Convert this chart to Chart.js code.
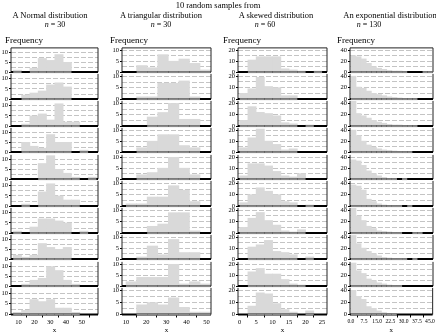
<!DOCTYPE html>
<html>
<head>
<meta charset="utf-8">
<script src="https://cdn.jsdelivr.net/npm/chart.js@4/dist/chart.umd.min.js"></script>
<style>
  html, body { margin: 0; padding: 0; background: #fff; }
  body { width: 436px; height: 333px; overflow: hidden; position: relative;
         font-family: "Liberation Serif", "DejaVu Serif", serif; color: #000; }
  canvas { position: absolute; }
  .lbl { position: absolute; white-space: nowrap; transform: translate(-50%, -50%);
         line-height: 1; font-size: 8.5px; }
  .left { transform: translate(0, -50%); }
</style>
</head>
<body>
<script>
// ---- data ----------------------------------------------------------------
const mainTitle = '10 random samples from';
const distributionTitles = ['A Normal distribution', 'A triangular distribution',
                            'A skewed distribution', 'An exponential distribution'];
const sampleSizes = [30, 30, 60, 130];
const yAxisTitle = 'Frequency';
const xAxisTitle = 'x';

// histogram bins: first edge and width per distribution
const binStarts = [6.6, 10, 0, 0];
const binWidths = [5.26, 5.25, 2.5, 2.9];

// tick labels
const xTickValues = [[10, 20, 30, 40, 50], [10, 20, 30, 40, 50],
                     [0, 5, 10, 15, 20, 25], [0, 7.5, 15, 22.5, 30, 37.5, 45]];
const yTickValues = [[0, 5, 10], [0, 5, 10], [0, 10, 20], [0, 20, 40]];
const yGridSteps = [2.5, 2.5, 5, 10];

// bin counts, one row per sample
const normalCounts = [
  [1, 0, 2, 7, 6, 9, 5, 0, 0, 0],
  [0, 2, 3, 4, 7, 8, 6, 0, 0, 0],
  [0, 1, 5, 6, 3, 11, 2, 2, 0, 0],
  [0, 5, 3, 2, 9, 5, 5, 0, 1, 0],
  [0, 0, 0, 8, 12, 5, 3, 1, 0, 1],
  [0, 1, 0, 7, 11, 5, 3, 3, 0, 0],
  [1, 0, 3, 7, 7, 6, 5, 0, 1, 0],
  [2, 1, 2, 8, 6, 5, 6, 0, 0, 0],
  [0, 1, 3, 4, 10, 8, 3, 1, 0, 0],
  [1, 2, 7, 6, 7, 3, 3, 1, 0, 0]
];
const triangularCounts = [
  [0, 3, 2, 8, 5, 6, 4, 1],
  [0, 1, 1, 7, 7, 8, 1, 0],
  [0, 0, 4, 6, 10, 3, 3, 0],
  [0, 2, 5, 8, 8, 3, 2, 0],
  [0, 2, 3, 5, 10, 5, 2, 0],
  [1, 1, 4, 4, 9, 7, 2, 0],
  [0, 0, 3, 4, 9, 9, 1, 0],
  [0, 1, 6, 2, 9, 3, 3, 0],
  [2, 4, 4, 4, 10, 1, 2, 1],
  [0, 4, 5, 4, 7, 3, 1, 1]
];
const skewedCounts = [
  [0, 11, 14, 14, 14, 3, 2, 1, 0, 1],
  [5, 9, 19, 11, 10, 3, 3, 0, 0, 0],
  [5, 17, 12, 11, 9, 3, 2, 0, 1, 0],
  [4, 13, 21, 10, 7, 2, 3, 0, 0, 0],
  [3, 14, 14, 12, 7, 3, 2, 5, 0, 0],
  [3, 10, 16, 13, 10, 4, 3, 0, 1, 0],
  [5, 13, 18, 11, 7, 2, 1, 3, 0, 0],
  [0, 11, 13, 17, 7, 6, 4, 0, 2, 0],
  [0, 13, 16, 11, 11, 6, 2, 1, 0, 0],
  [0, 7, 18, 17, 9, 4, 2, 0, 3, 0]
];
const exponentialCounts = [
  [30, 28, 24, 16, 10, 7, 5, 3, 2, 2, 1, 0, 0, 0, 1, 1],
  [40, 21, 19, 14, 10, 8, 6, 4, 3, 2, 1, 1, 1, 0, 0, 0],
  [44, 22, 18, 14, 10, 7, 5, 3, 2, 2, 1, 1, 1, 0, 0, 0],
  [40, 30, 20, 13, 9, 6, 4, 3, 2, 1, 1, 1, 0, 0, 0, 0],
  [35, 33, 25, 15, 10, 6, 3, 1, 1, 0, 1, 0, 0, 0, 0, 0],
  [37, 35, 28, 12, 8, 4, 2, 1, 1, 1, 0, 1, 0, 0, 0, 0],
  [45, 30, 22, 12, 8, 4, 3, 2, 1, 1, 0, 0, 1, 1, 0, 0],
  [43, 28, 20, 14, 10, 6, 3, 2, 1, 1, 1, 0, 1, 0, 0, 0],
  [42, 28, 23, 13, 10, 6, 4, 2, 1, 1, 0, 0, 0, 0, 0, 0],
  [40, 30, 25, 13, 10, 6, 3, 2, 1, 0, 0, 0, 0, 0, 0, 0]
];
const allCounts = [normalCounts, triangularCounts, skewedCounts, exponentialCounts];

// ---- layout ----------------------------------------------------------------
const COLS = [
  { left: 11,  right: 98,  xMin: 5.2,  xMax: 60.2, yMax: 12.4, titleX: 50,  nX: 55,  freqX: 5,   xFont: 6.5 },
  { left: 122, right: 211, xMin: 8,    xMax: 52.2, yMax: 11.1, titleX: 161, nX: 161, freqX: 110, xFont: 6.5 },
  { left: 238, right: 327, xMin: -0.5, xMax: 26.5, yMax: 22,   titleX: 276, nX: 265, freqX: 223, xFont: 6.5 },
  { left: 350, right: 433, xMin: -0.5, xMax: 46.5, yMax: 44,   titleX: 390, nX: 369, freqX: 337, xFont: 5.6 }
];
const ROW_TOP = 47, ROW_H = 26.75, N_ROWS = 10;
const AXW = 16, PAD_T = 4, PAD_R = 3, PAD_B = 3, XAXH = 20;
const BAR_FILL = '#d9d9d9', GRID = '#c4c4c4';

Chart.defaults.font.family = '"Liberation Serif", "DejaVu Serif", serif';
Chart.defaults.color = '#000';

// panel frame: axis line, right edge, top edge, and the baseline
// (black where no bar stands on it, grey beneath the bars)
const framePlugin = {
  id: 'frame',
  afterDatasetsDraw(chart, args, opts) {
    const { ctx, chartArea: a, scales: { x } } = chart;
    ctx.save();
    ctx.lineCap = 'butt';
    ctx.strokeStyle = '#222';
    ctx.lineWidth = 1;
    ctx.beginPath();
    ctx.moveTo(a.left, a.top); ctx.lineTo(a.left, a.bottom);
    ctx.moveTo(a.right, a.top); ctx.lineTo(a.right, a.bottom);
    if (opts.topEdge) { ctx.moveTo(a.left, a.top); ctx.lineTo(a.right, a.top); }
    ctx.stroke();
    ctx.lineWidth = 2;
    ctx.strokeStyle = '#000';
    ctx.beginPath();
    ctx.moveTo(a.left, a.bottom); ctx.lineTo(a.right, a.bottom);
    ctx.stroke();
    ctx.strokeStyle = '#8a8a8a';
    opts.counts.forEach((c, k) => {
      if (c <= 0) return;
      const x0 = x.getPixelForValue(opts.start + k * opts.width);
      const x1 = x.getPixelForValue(opts.start + (k + 1) * opts.width);
      ctx.beginPath();
      ctx.moveTo(x0, a.bottom); ctx.lineTo(x1, a.bottom);
      ctx.stroke();
    });
    ctx.restore();
  }
};

function addText(html, x, y, size, cls) {
  const d = document.createElement('div');
  d.className = 'lbl' + (cls ? ' ' + cls : '');
  d.innerHTML = html;
  d.style.left = x + 'px';
  d.style.top = y + 'px';
  if (size) d.style.fontSize = size + 'px';
  d.style.zIndex = 5;
  document.body.appendChild(d);
}

COLS.forEach((col, c) => {
  const counts = allCounts[c];
  const labeled = yTickValues[c];
  const gridVals = [];
  for (let v = 0; v <= col.yMax + 1e-9; v += yGridSteps[c]) gridVals.push(+v.toFixed(4));

  for (let r = 0; r < N_ROWS; r++) {
    const isLast = r === N_ROWS - 1;
    const top = ROW_TOP + r * ROW_H;
    const cTop = Math.floor(top) - PAD_T;
    const padTop = top - cTop;
    const h = Math.ceil(padTop + ROW_H + (isLast ? XAXH : PAD_B));
    const padBottom = h - padTop - ROW_H - (isLast ? XAXH : 0);
    const w = AXW + (col.right - col.left) + PAD_R;

    const cv = document.createElement('canvas');
    cv.width = w; cv.height = h;
    cv.style.left = (col.left - AXW) + 'px';
    cv.style.top = cTop + 'px';
    cv.style.width = w + 'px'; cv.style.height = h + 'px';
    document.body.appendChild(cv);

    const row = counts[r];
    const pts = row.map((n, k) => ({ x: binStarts[c] + binWidths[c] * (k + 0.5), y: n }));

    new Chart(cv, {
      type: 'bar',
      data: {
        datasets: [{
          data: pts,
          backgroundColor: BAR_FILL,
          borderWidth: 0,
          barPercentage: 1,
          categoryPercentage: 1,
          grouped: false
        }]
      },
      options: {
        responsive: false,
        animation: false,
        devicePixelRatio: 1,
        events: [],
        layout: { padding: { left: 0, top: padTop, right: PAD_R, bottom: padBottom } },
        plugins: {
          legend: { display: false },
          tooltip: { enabled: false },
          frame: { counts: row, start: binStarts[c], width: binWidths[c], topEdge: r === 0 }
        },
        scales: {
          x: {
            type: 'linear',
            min: col.xMin, max: col.xMax,
            offset: false,
            display: isLast,
            afterBuildTicks: s => { s.ticks = xTickValues[c].map(v => ({ value: v })); },
            afterFit: s => { s.height = isLast ? XAXH : 0; },
            grid: { drawOnChartArea: false, drawTicks: true, tickLength: 3, tickColor: '#000', lineWidth: 1 },
            border: { display: false },
            ticks: {
              autoSkip: false, maxRotation: 0, padding: 1,
              font: { size: col.xFont },
              callback: v => (c === 3 ? Number(v).toFixed(1) : String(v))
            },
            title: { display: true, text: xAxisTitle, font: { size: 7 }, padding: { top: 0, bottom: 0 } }
          },
          y: {
            type: 'linear',
            min: 0, max: col.yMax,
            afterBuildTicks: s => { s.ticks = gridVals.map(v => ({ value: v })); },
            afterFit: s => { s.width = AXW; },
            grid: {
              drawTicks: true, tickLength: 2, lineWidth: 1,
              color: ctx => (ctx.tick && ctx.tick.value === 0 ? 'rgba(0,0,0,0)' : GRID),
              tickColor: ctx => (ctx.tick && labeled.includes(ctx.tick.value) ? '#000' : 'rgba(0,0,0,0)')
            },
            border: { display: false, dash: [5, 2] },
            ticks: {
              autoSkip: false, padding: 1,
              font: { size: 6.5 },
              callback: v => (labeled.includes(v) ? String(v) : '')
            }
          }
        }
      },
      plugins: [framePlugin]
    });
  }

  addText(distributionTitles[c], col.titleX, 15, 8.5);
  addText('<i>n</i> = ' + sampleSizes[c], col.nX, 25, 8);
  addText(yAxisTitle, col.freqX, 40, 9, 'left');
});

addText(mainTitle, 218, 5, 8.5);
</script>
</body>
</html>
